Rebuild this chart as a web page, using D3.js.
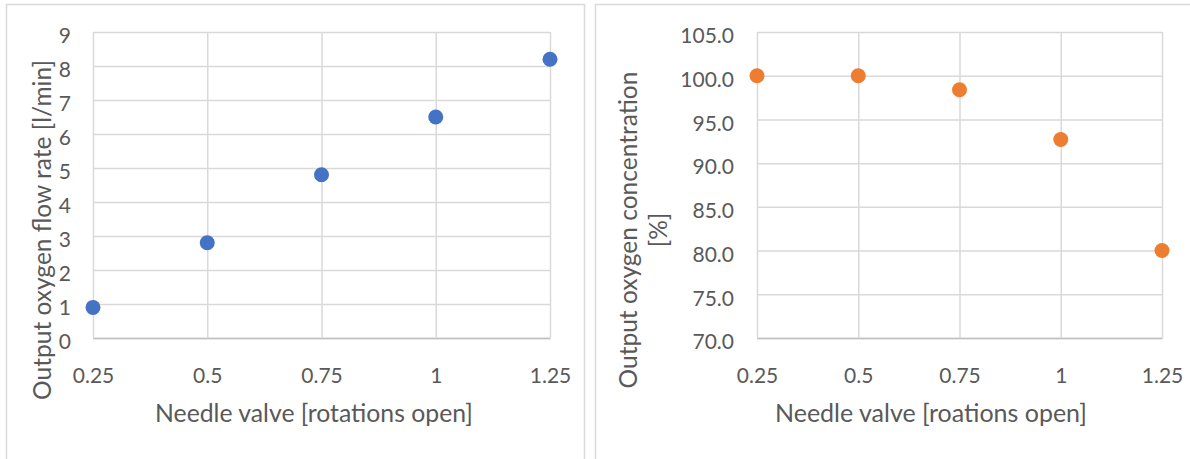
<!DOCTYPE html>
<html>
<head>
<meta charset="utf-8">
<script src="https://cdn.jsdelivr.net/npm/d3@7"></script>
<style>
  html, body { margin: 0; padding: 0; background: #ffffff; }
  svg { display: block; font-family: Lato, "Open Sans", sans-serif; }
</style>
</head>
<body>
<svg id="chart" width="1190" height="459"></svg>
<script>
// Needle valve opening (rotations) shared by both panels
const valveOpen = [0.25, 0.5, 0.75, 1, 1.25];
const xTickLabels = ["0.25", "0.5", "0.75", "1", "1.25"];

// Left panel: output oxygen flow rate [l/min]
const flowRate = [0.9, 2.8, 4.8, 6.5, 8.2];
const flowTicks = [0, 1, 2, 3, 4, 5, 6, 7, 8, 9];

// Right panel: output oxygen concentration [%]
const concentration = [100.0, 100.0, 98.4, 92.7, 80.0];
const concTicks = [70, 75, 80, 85, 90, 95, 100, 105];

const svg = d3.select("#chart");
const textColor = "#595959";
const gridColor = "#d9d9d9";
const fontFamily = "Lato, 'Open Sans', sans-serif";

// Font size at which a string spans the given width
function fitSize(str, width) {
  const t = svg.append("text").attr("font-size", 100).attr("font-family", fontFamily).text(str);
  const len = t.node().getComputedTextLength();
  t.remove();
  return 100 * width / len;
}
const tickSize = fitSize("0.25", 41.5);

// Chart area frames
svg.append("rect")
  .attr("x", 6.5).attr("y", 4.5).attr("width", 578).attr("height", 470)
  .attr("fill", "none").attr("stroke", gridColor).attr("stroke-width", 1.5);
svg.append("rect")
  .attr("x", 595.5).attr("y", 4.5).attr("width", 620).attr("height", 470)
  .attr("fill", "none").attr("stroke", gridColor).attr("stroke-width", 1.5);

function drawPanel(opts) {
  const { left, right, top, bottom, values, yTicks, yFormat, color, yLabelX,
          xTitle, xTitleX, xTitleWidth, yTitleLines, yTitleX, yTitleWidth, yTitleLineGap } = opts;
  const w = right - left, h = bottom - top;
  const g = svg.append("g").attr("transform", `translate(${left},${top})`);

  const x = d3.scaleLinear().domain([0.25, 1.25]).range([0, w]);
  const y = d3.scaleLinear().domain(d3.extent(yTicks)).range([h, 0]);

  // Horizontal gridlines with value labels
  const yAxis = g.append("g")
    .call(d3.axisLeft(y).tickValues(yTicks).tickFormat(yFormat)
      .tickSizeInner(-w).tickSizeOuter(0).tickPadding(yLabelX));
  yAxis.select(".domain").remove();
  yAxis.selectAll(".tick line").attr("stroke", gridColor).attr("stroke-width", 1.5);
  yAxis.selectAll(".tick text")
    .attr("fill", textColor).attr("font-size", tickSize).attr("y", 4)
    .attr("font-family", fontFamily);

  // Vertical gridlines, category labels and the baseline
  const xAxis = g.append("g").attr("transform", `translate(0,${h})`)
    .call(d3.axisBottom(x).tickValues(valveOpen)
      .tickFormat((d, i) => xTickLabels[i])
      .tickSizeInner(-h).tickSizeOuter(0));
  xAxis.select(".domain").attr("stroke", "#bfbfbf").attr("stroke-width", 1.5);
  xAxis.selectAll(".tick line").attr("stroke", gridColor).attr("stroke-width", 1.5);
  xAxis.selectAll(".tick text")
    .attr("fill", textColor).attr("font-size", tickSize)
    .attr("font-family", fontFamily)
    .attr("y", 45).attr("dy", null);

  // Markers
  g.append("g").selectAll("circle")
    .data(values)
    .join("circle")
    .attr("cx", (d, i) => x(valveOpen[i]))
    .attr("cy", d => y(d))
    .attr("r", 7.5)
    .attr("fill", color);

  // Axis titles
  svg.append("text")
    .attr("x", xTitleX).attr("y", 422)
    .attr("text-anchor", "middle")
    .attr("fill", textColor).attr("font-size", fitSize(xTitle, xTitleWidth))
    .text(xTitle);

  const yt = svg.append("text")
    .attr("transform", `translate(${yTitleX},230) rotate(-90)`)
    .attr("text-anchor", "middle")
    .attr("fill", textColor).attr("font-size", fitSize(yTitleLines[0], yTitleWidth));
  yTitleLines.forEach((line, i) => {
    yt.append("tspan").attr("x", 0).attr("y", i * yTitleLineGap).text(line);
  });
}

drawPanel({
  left: 93, right: 550, top: 32, bottom: 338,
  values: flowRate, yTicks: flowTicks, yFormat: d3.format("d"),
  color: "#4472c4", yLabelX: 22,
  xTitle: "Needle valve [rotations open]", xTitleX: 314, xTitleWidth: 318,
  yTitleLines: ["Output oxygen flow rate [l/min]"], yTitleX: 51, yTitleWidth: 340, yTitleLineGap: 0
});

drawPanel({
  left: 757, right: 1162, top: 32, bottom: 338,
  values: concentration, yTicks: concTicks, yFormat: d3.format(".1f"),
  color: "#ed7d31", yLabelX: 23,
  xTitle: "Needle valve [roations open]", xTitleX: 931, xTitleWidth: 312,
  yTitleLines: ["Output oxygen concentration", "[%]"], yTitleX: 637, yTitleWidth: 317, yTitleLineGap: 30
});
</script>
</body>
</html>
